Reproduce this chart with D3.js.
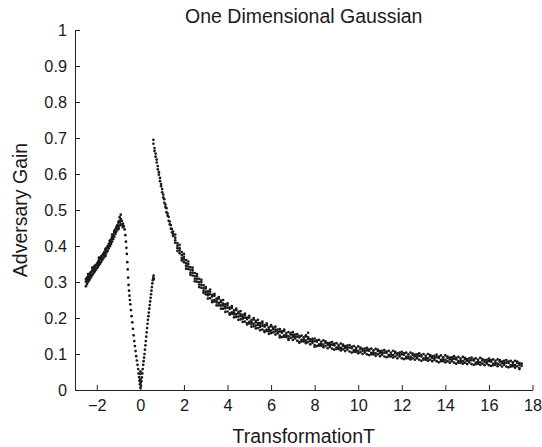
<!DOCTYPE html>
<html>
<head>
<meta charset="utf-8">
<script src="https://cdn.jsdelivr.net/npm/d3@7"></script>
<style>
  body { margin: 0; background: #fff; }
  text { font-family: "Liberation Sans", Arial, Helvetica, sans-serif; fill: #1a1a1a; }
</style>
</head>
<body>
<div id="chart"></div>
<script>
// Values: each row is [x, y, y, ...]
var leftBranch = [
  [-2.50, .288, .301, .308], [-2.45, .294, .312, .304], [-2.40, .316, .300, .309, .322],
  [-2.35, .305, .318, .312], [-2.30, .322, .310, .326], [-2.25, .315, .328, .319],
  [-2.20, .332, .320, .336, .341], [-2.15, .324, .337, .331], [-2.10, .341, .329, .345],
  [-2.05, .333, .346, .336], [-2.00, .350, .338, .347], [-1.95, .342, .355, .351],
  [-1.90, .359, .347, .362, .368], [-1.85, .351, .364, .355], [-1.80, .368, .356, .371],
  [-1.75, .361, .374, .365], [-1.70, .379, .366, .376], [-1.65, .371, .384, .380],
  [-1.60, .389, .376, .392, .372], [-1.55, .382, .395, .386], [-1.50, .400, .387, .397],
  [-1.45, .393, .406, .402], [-1.40, .412, .399, .415], [-1.35, .405, .418, .409],
  [-1.30, .425, .412, .422, .432], [-1.25, .419, .432, .428], [-1.20, .439, .426, .442],
  [-1.15, .433, .446, .437], [-1.10, .453, .440, .450], [-1.05, .446, .459, .455],
  [-1.00, .465, .452, .468, .447], [-0.95, .457, .470, .466, .480], [-0.90, .475, .460, .487],
  [-0.85, .458, .470], [-0.80, .462, .452]
];

var dipBranch = [
  [-0.76, .455], [-0.72, .446], [-0.69, .430], [-0.66, .412], [-0.64, .395],
  [-0.62, .378], [-0.60, .355], [-0.58, .335], [-0.56, .312], [-0.54, .292],
  [-0.52, .276], [-0.50, .262], [-0.48, .250], [-0.46, .238], [-0.43, .222],
  [-0.40, .205], [-0.37, .188], [-0.34, .170], [-0.31, .152], [-0.28, .136],
  [-0.25, .122], [-0.22, .108], [-0.19, .094], [-0.16, .082], [-0.13, .070],
  [-0.10, .058], [-0.08, .046], [-0.06, .036], [-0.04, .026], [-0.02, .016],
  [0.00, .006, .030, .045], [0.01, .020, .052]
];

var riseBranch = [
  [0.03, .012], [0.05, .024], [0.07, .035], [0.09, .046], [0.11, .058],
  [0.13, .070], [0.15, .080], [0.17, .090], [0.19, .100], [0.21, .112],
  [0.23, .124], [0.25, .136], [0.27, .148], [0.29, .160], [0.31, .172],
  [0.33, .184], [0.35, .195], [0.37, .205], [0.39, .215], [0.41, .226],
  [0.43, .236], [0.45, .246], [0.47, .256], [0.49, .266], [0.51, .276],
  [0.53, .286], [0.55, .296], [0.57, .305], [0.59, .312], [0.61, .318], [0.62, .308]
];

var tailBranch = [
  [0.60, .695, .684], [0.65, .672, .664], [0.70, .657, .648], [0.75, .640, .632],
  [0.80, .622, .613], [0.85, .605, .598], [0.90, .589, .580], [0.95, .572, .566],
  [1.00, .558, .549], [1.05, .543, .535], [1.10, .530, .520], [1.15, .515, .508],
  [1.20, .505, .494], [1.25, .490, .484], [1.30, .481, .470], [1.35, .468, .460],
  [1.40, .458, .448], [1.45, .447, .438], [1.50, .440, .428, .434],
  [1.6, .423, .409, .416, .432], [1.7, .408, .394, .401, .386], [1.8, .394, .380, .388, .403],
  [1.9, .383, .367, .375, .360], [2.0, .370, .355, .363, .378], [2.1, .361, .345, .352, .337],
  [2.2, .350, .336, .343, .357], [2.3, .341, .326, .334, .320], [2.4, .333, .318, .326, .340],
  [2.5, .325, .309, .316, .302], [2.6, .316, .301, .309, .322], [2.7, .309, .293, .300, .286],
  [2.8, .300, .284, .292, .306], [2.9, .291, .276, .283, .270], [3.0, .282, .266, .273, .286],
  [3.1, .274, .263, .268, .254], [3.2, .255, .266, .273, .279], [3.3, .260, .248, .264, .244],
  [3.4, .250, .262, .246, .267], [3.5, .254, .243, .248, .235], [3.6, .254, .242, .235, .258],
  [3.7, .235, .244, .248, .226], [3.8, .235, .226, .240, .250], [3.9, .238, .227, .232, .217],
  [4.0, .218, .229, .236, .241], [4.1, .225, .213, .229, .209], [4.2, .216, .228, .212, .233],
  [4.3, .221, .210, .215, .202], [4.4, .222, .210, .203, .226], [4.5, .204, .213, .217, .195],
  [4.6, .205, .196, .210, .219], [4.7, .209, .198, .203, .189], [4.8, .190, .201, .208, .212],
  [4.9, .197, .185, .201, .182], [5.0, .189, .201, .185, .206], [5.1, .194, .183, .188, .176],
  [5.2, .196, .184, .177, .200], [5.3, .179, .188, .192, .171], [5.4, .181, .172, .186, .195],
  [5.5, .186, .175, .180, .166], [5.6, .168, .179, .186, .190], [5.7, .176, .164, .180, .161],
  [5.8, .168, .180, .164, .185], [5.9, .174, .163, .168, .156], [6.0, .177, .165, .158, .180],
  [6.1, .160, .169, .173], [6.2, .163, .154, .168, .176], [6.3, .168, .157, .162],
  [6.4, .151, .162, .169, .146], [6.5, .159, .147, .163], [6.6, .152, .164, .148, .168],
  [6.7, .158, .147, .152], [6.8, .161, .149, .142, .139], [6.9, .145, .154, .158],
  [7.0, .148, .139, .153, .161], [7.1, .154, .143, .148], [7.2, .137, .148, .155],
  [7.3, .146, .134, .150, .131], [7.4, .139, .151, .135], [7.5, .146, .135, .140],
  [7.6, .149, .137, .130, .152], [7.7, .133, .142, .146, .159], [7.8, .136, .127, .141],
  [7.9, .142, .131, .136], [8.0, .125, .136, .143, .120], [8.1, .134, .122, .138],
  [8.2, .127, .139, .123], [8.3, .134, .123, .128], [8.4, .138, .126, .119],
  [8.5, .122, .131, .135], [8.6, .125, .116, .130], [8.7, .131, .120, .125],
  [8.8, .115, .126, .133], [8.9, .124, .112, .128], [9.0, .118, .130, .114],
  [9.1, .125, .114, .119], [9.2, .129, .117, .110], [9.3, .113, .122, .126],
  [9.4, .117, .108, .122], [9.5, .123, .112, .117], [9.6, .107, .118, .125],
  [9.7, .116, .104, .120], [9.8, .110, .122, .106], [9.9, .117, .106, .111],
  [10.0, .121, .109, .102], [10.1, .105, .114, .118], [10.2, .109, .100, .114],
  [10.3, .115, .104, .109], [10.4, .099, .110, .117], [10.5, .109, .097, .113],
  [10.6, .103, .115, .099], [10.7, .110, .099, .104], [10.8, .114, .102, .095],
  [10.9, .099, .108, .112], [11.0, .103, .094, .108], [11.1, .109, .098, .103],
  [11.2, .093, .104, .111], [11.3, .103, .091, .107], [11.4, .097, .109, .093],
  [11.5, .104, .093, .098], [11.6, .109, .097, .090], [11.7, .093, .102, .106],
  [11.8, .097, .088, .102], [11.9, .104, .093, .098], [12.0, .088, .099, .106],
  [12.1, .098, .086, .102], [12.2, .092, .104, .088], [12.3, .099, .088, .093],
  [12.4, .104, .092, .085], [12.5, .088, .097, .101], [12.6, .093, .084, .098],
  [12.7, .099, .088, .093], [12.8, .084, .095, .102], [12.9, .093, .081, .097],
  [13.0, .088, .100, .084], [13.1, .095, .084, .089], [13.2, .100, .088, .081],
  [13.3, .084, .093, .097], [13.4, .089, .080, .094], [13.5, .095, .084, .089],
  [13.6, .080, .091, .098], [13.7, .089, .077, .093], [13.8, .084, .096, .080],
  [13.9, .091, .080, .085], [14.0, .096, .084, .077], [14.1, .080, .089, .093],
  [14.2, .085, .076, .090], [14.3, .091, .080, .085], [14.4, .076, .087, .094],
  [14.5, .085, .073, .089], [14.6, .080, .092, .076], [14.7, .087, .076, .081],
  [14.8, .092, .080, .073], [14.9, .076, .085, .089], [15.0, .081, .072, .086],
  [15.1, .088, .077, .082], [15.2, .072, .083, .090], [15.3, .082, .070, .086],
  [15.4, .076, .088, .072], [15.5, .084, .073, .078], [15.6, .089, .077, .070],
  [15.7, .073, .082, .086], [15.8, .078, .069, .083], [15.9, .084, .073, .078],
  [16.0, .069, .080, .087], [16.1, .079, .067, .083], [16.2, .073, .085, .069],
  [16.3, .081, .070, .075], [16.4, .085, .073, .066], [16.5, .070, .079, .083],
  [16.6, .074, .065, .079], [16.7, .081, .070, .075], [16.8, .065, .076, .083],
  [16.9, .075, .063, .079], [17.0, .069, .081, .065], [17.1, .077, .066, .071],
  [17.2, .081, .069, .062], [17.3, .066, .075, .079], [17.4, .070, .061, .075, .058],
  [17.5, .073, .067]
];

var xTicks = [-2, 0, 2, 4, 6, 8, 10, 12, 14, 16, 18];
var xTickLabels = ["\u22122", "0", "2", "4", "6", "8", "10", "12", "14", "16", "18"];
var yTicks = [0, 0.1, 0.2, 0.3, 0.4, 0.5, 0.6, 0.7, 0.8, 0.9, 1];
var yTickLabels = ["0", "0.1", "0.2", "0.3", "0.4", "0.5", "0.6", "0.7", "0.8", "0.9", "1"];

var svgWidth = 542;
var svgHeight = 447;

var chartMargin = {
  top: 30,
  right: 9.5,
  bottom: 57,
  left: 75
};

var chartWidth = svgWidth - chartMargin.left - chartMargin.right;
var chartHeight = svgHeight - chartMargin.top - chartMargin.bottom;

var svg = d3.select("#chart")
    .append("svg")
    .attr("width", svgWidth)
    .attr("height", svgHeight);

var chartGroup = svg.append("g")
    .attr("transform", `translate(${chartMargin.left}, ${chartMargin.top})`);

var xScale = d3.scaleLinear()
    .domain([-3, 18])
    .range([0, chartWidth]);

var yScale = d3.scaleLinear()
    .domain([0, 1])
    .range([chartHeight, 0]);

// flatten rows into points
var points = [];
[leftBranch, dipBranch, riseBranch, tailBranch].forEach(function(rows) {
    rows.forEach(function(row) {
        row.slice(1).forEach(function(y) {
            points.push({x: row[0], y: y});
        });
    });
});

chartGroup.selectAll("circle")
    .data(points)
    .enter()
    .append("circle")
        .attr("r", 1.35)
        .attr("cx", d => xScale(d.x))
        .attr("cy", d => yScale(d.y))
        .attr("fill", "#1a1a1a");

// MATLAB style: ticks point inwards, no box
var yAxis = d3.axisLeft(yScale)
    .tickValues(yTicks)
    .tickFormat((d, i) => yTickLabels[i])
    .tickSizeInner(-5)
    .tickSizeOuter(0)
    .tickPadding(8);

var xAxis = d3.axisBottom(xScale)
    .tickValues(xTicks)
    .tickFormat((d, i) => xTickLabels[i])
    .tickSizeInner(-5)
    .tickSizeOuter(0)
    .tickPadding(9);

var yAxisGroup = chartGroup.append("g").call(yAxis);
var xAxisGroup = chartGroup.append("g")
    .attr("transform", `translate(0,${chartHeight})`)
    .call(xAxis);

[yAxisGroup, xAxisGroup].forEach(function(g) {
    g.selectAll("path, line").attr("stroke", "#222");
    g.selectAll("text")
        .attr("fill", "#1a1a1a")
        .style("font-size", "16.3px")
        .style("font-family", "'Liberation Sans', Arial, sans-serif");
});

svg.append("text")
    .attr("x", chartMargin.left + chartWidth / 2)
    .attr("y", 22.5)
    .attr("text-anchor", "middle")
    .style("font-size", "19.5px")
    .text("One Dimensional Gaussian");

svg.append("text")
    .attr("x", chartMargin.left + chartWidth / 2)
    .attr("y", 443)
    .attr("text-anchor", "middle")
    .style("font-size", "19.5px")
    .text("TransformationT");

svg.append("text")
    .attr("transform", `translate(26.5, ${chartMargin.top + chartHeight / 2}) rotate(-90)`)
    .attr("text-anchor", "middle")
    .style("font-size", "19.5px")
    .text("Adversary Gain");
</script>
</body>
</html>
